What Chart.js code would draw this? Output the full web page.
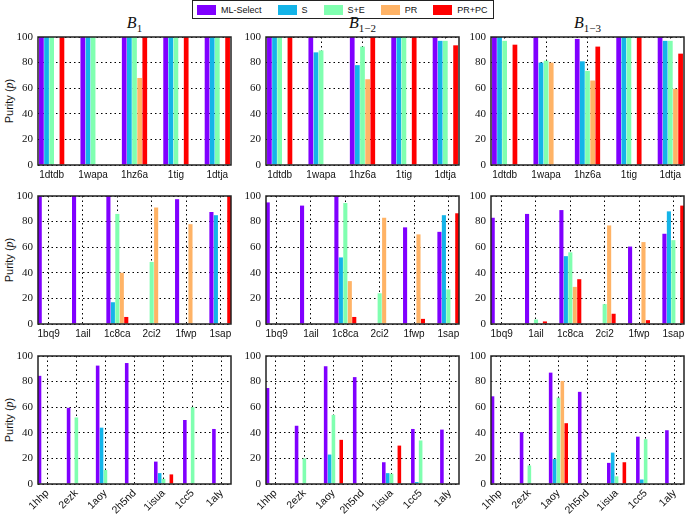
<!DOCTYPE html>
<html>
<head>
<meta charset="utf-8">
<script src="https://cdn.jsdelivr.net/npm/chart.js@4.4.1/dist/chart.umd.min.js"></script>
<style>
body { margin: 0; width: 685px; height: 514px; overflow: hidden; background: #fff; position: relative; font-family: "Liberation Sans", Arial, sans-serif; }
canvas { position: absolute; }
#legend { position: absolute; left: 192px; top: 0; height: 17px; border: 1.5px solid #222; display: flex; align-items: center; padding: 0 5px 0 4px; font-size: 9px; color: #111; }
#legend span.sw { display: inline-block; width: 19px; height: 10px; margin-right: 5px; }
#legend span.lb { margin-right: 16px; }
#legend span.lb:last-child { margin-right: 0; }
.ttl { position: absolute; width: 193px; text-align: center; font: italic 16px "Liberation Serif", serif; line-height: 16px; color: #111; }
.ttl sub { font-style: normal; font-size: 11px; vertical-align: -4px; line-height: 0; }
.ylab { position: absolute; width: 80px; text-align: center; font-size: 11px; line-height: 14px; transform: rotate(-90deg); white-space: nowrap; color: #111; }
.ylab i { font-family: "Liberation Serif", serif; font-size: 12px; }
</style>
</head>
<body>
<div id="legend"></div>
<script>
// series and colours
const series = ['ML-Select', 'S', 'S+E', 'PR', 'PR+PC'];
const colors = ['#8000ff', '#14b4e8', '#80ffb0', '#ffb366', '#ff0000'];
const blockSubs = ['1', '1\u22122', '1\u22123'];

// categories per row
const cats1 = ['1dtdb', '1wapa', '1hz6a', '1tig', '1dtja'];
const cats2 = ['1bq9', '1ail', '1c8ca', '2ci2', '1fwp', '1sap'];
const cats3 = ['1hhp', '2ezk', '1aoy', '2h5nd', '1isua', '1cc5', '1aly'];

// purity values, rows in series order: ML-Select, S, S+E, PR, PR+PC
const r1_b1 = [
  [100, 100, 100, 100, 100],
  [100, 100, 100, 100, 100],
  [100, 100, 100, 100, 100],
  [0, 0, 68, 0, 0],
  [100, 0, 100, 100, 100]
];
const r1_b12 = [
  [100, 100, 100, 100, 100],
  [100, 88, 78, 100, 97],
  [100, 89.5, 92.5, 100, 97],
  [0, 0, 67, 0, 0],
  [100, 0, 100, 100, 93.5]
];
const r1_b13 = [
  [100, 100, 98.5, 100, 100],
  [100, 80, 81, 100, 97],
  [97, 81.5, 73.5, 100, 97],
  [0, 80, 66, 0, 59.5],
  [94, 0, 92.5, 100, 87]
];

const r2_b1 = [
  [100, 100, 100, 0, 97.5, 87.5],
  [0, 0, 17, 0, 0, 85],
  [0, 0, 86, 48.5, 0, 0],
  [0, 0, 40, 91, 78, 0],
  [0, 0, 5.5, 0, 0, 100]
];
const r2_b12 = [
  [95, 92.5, 100, 0, 75.5, 72],
  [0, 0, 52, 0, 0, 85],
  [0, 0, 94.5, 24, 0, 27],
  [0, 0, 33.5, 83, 70, 0],
  [0, 0, 5.5, 0, 4, 86.5]
];
const r2_b13 = [
  [83, 86, 89, 0, 60.5, 70.5],
  [0, 0, 53, 0, 0, 88],
  [0, 3.5, 56, 15.5, 0, 65.5],
  [0, 0, 29, 77, 64, 0],
  [0, 2, 35, 8, 3, 92.5]
];

const r3_b1 = [
  [84.5, 59.5, 92.5, 94.5, 17.5, 50, 43],
  [0, 0, 44, 0, 8.5, 0, 0],
  [0, 52, 11, 0, 4, 60, 0],
  [0, 0, 0, 0, 0, 0, 0],
  [0, 0, 0, 0, 7.5, 0, 0]
];
const r3_b12 = [
  [75, 45.5, 92, 83.5, 17, 43, 42.5],
  [0, 0, 23, 0, 8.5, 1.5, 0],
  [0, 20, 54, 0, 8, 34, 0],
  [0, 0, 0, 0, 0, 0, 0],
  [0, 0, 34.5, 0, 30, 0, 0]
];
const r3_b13 = [
  [68.5, 40.5, 87, 72, 16.5, 37, 42],
  [0, 0, 19.5, 0, 24.5, 3.5, 0],
  [0, 14.5, 67.5, 0, 6, 35, 0],
  [0, 0, 80.5, 0, 0, 0, 0],
  [0, 0, 47.5, 0, 17, 0, 0]
];

// layout of the 3x3 grid (plot frame positions)
const colLeft = [38, 266, 491];
const rowTop = [37, 196, 356];
const frameW = 193, frameH = 128;
const rows = [
  { cats: cats1, panels: [r1_b1, r1_b12, r1_b13], pad: 0.33, catPct: 0.62, bottom: 22, rot: 0 },
  { cats: cats2, panels: [r2_b1, r2_b12, r2_b13], pad: 0.31, catPct: 0.65, bottom: 22, rot: 0 },
  { cats: cats3, panels: [r3_b1, r3_b12, r3_b13], pad: 0.32, catPct: 0.67, bottom: 30, rot: 45 }
];

// legend
const leg = document.getElementById('legend');
series.forEach((s, k) => {
  leg.insertAdjacentHTML('beforeend',
    '<span class="sw" style="background:' + colors[k] + '"></span><span class="lb">' + s + '</span>');
});

// block titles
blockSubs.forEach((sub, c) => {
  const d = document.createElement('div');
  d.className = 'ttl';
  d.style.left = colLeft[c] + 'px';
  d.style.top = '15px';
  d.innerHTML = 'B<sub>' + sub + '</sub>';
  document.body.appendChild(d);
});

const framePlugin = {
  id: 'frame',
  afterDraw(chart) {
    const { ctx, chartArea: a } = chart;
    ctx.save();
    ctx.strokeStyle = '#222';
    ctx.lineWidth = 1.5;
    ctx.strokeRect(a.left, a.top, a.right - a.left, a.bottom - a.top);
    ctx.restore();
  }
};

rows.forEach((row, r) => {
  // y axis title on the left column
  const yl = document.createElement('div');
  yl.className = 'ylab';
  yl.style.left = (9 - 40) + 'px';
  yl.style.top = (rowTop[r] + frameH / 2 - 7) + 'px';
  yl.innerHTML = 'Purity (<i>p</i>)';
  document.body.appendChild(yl);

  row.panels.forEach((vals, c) => {
    const cv = document.createElement('canvas');
    cv.width = 38 + frameW + 8;
    cv.height = 8 + frameH + row.bottom;
    cv.style.left = (colLeft[c] - 38) + 'px';
    cv.style.top = (rowTop[r] - 8) + 'px';
    document.body.appendChild(cv);

    const n = row.cats.length;
    new Chart(cv.getContext('2d'), {
      type: 'bar',
      data: {
        datasets: series.map((s, k) => ({
          label: s,
          data: vals[k].map((v, i) => ({ x: i, y: v })),
          backgroundColor: colors[k],
          borderWidth: 0,
          categoryPercentage: row.catPct,
          barPercentage: 0.92,
          clip: 0
        }))
      },
      options: {
        responsive: false,
        animation: false,
        devicePixelRatio: 1,
        layout: { padding: { left: 0, top: 8, right: 8, bottom: 0 } },
        plugins: { legend: { display: false }, tooltip: { enabled: false } },
        scales: {
          x: {
            type: 'linear',
            min: -row.pad,
            max: n - 1 + row.pad,
            offset: false,
            z: 1,
            afterBuildTicks: (scale) => { scale.ticks = row.cats.map((name, i) => ({ value: i })); },
            afterFit: (scale) => { scale.height = row.bottom; scale.paddingLeft = 0; scale.paddingRight = 0; },
            grid: { offset: false, color: '#000', lineWidth: 1, drawTicks: false },
            border: { display: false, dash: [1.5, 3] },
            ticks: {
              autoSkip: false,
              padding: row.rot ? 3 : 4,
              minRotation: row.rot,
              maxRotation: row.rot,
              color: '#111',
              font: { family: 'Liberation Sans', size: row.rot ? 10.5 : 10 },
              callback: (v) => row.cats[Math.round(v)]
            }
          },
          y: {
            min: 0,
            max: 100,
            z: 1,
            afterFit: (scale) => { scale.width = 38; scale.paddingTop = 0; scale.paddingBottom = 0; },
            grid: { color: '#000', lineWidth: 1, drawTicks: false },
            border: { display: false, dash: [1.5, 3] },
            ticks: {
              stepSize: 20,
              padding: 5,
              color: '#111',
              font: { family: 'Liberation Serif', size: 11 }
            }
          }
        }
      },
      plugins: [framePlugin]
    });
  });
});
</script>
</body>
</html>
